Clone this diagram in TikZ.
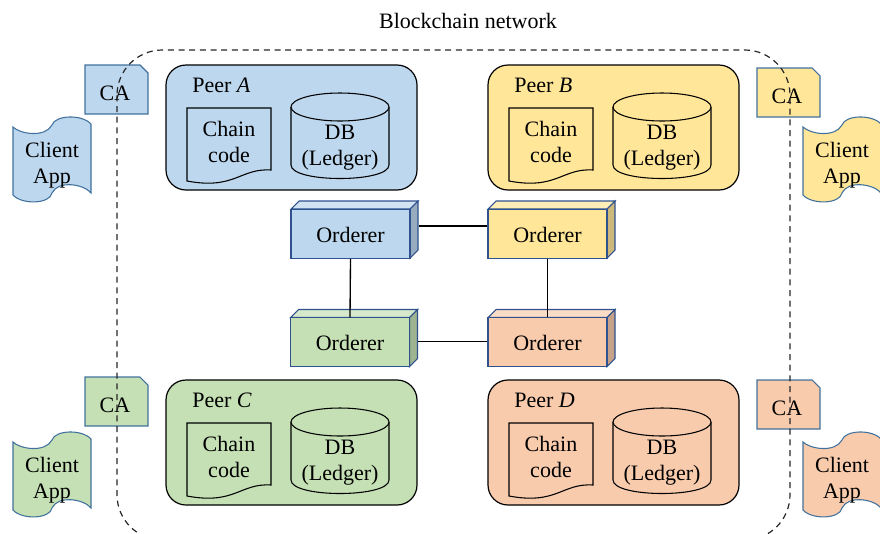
\documentclass[tikz,border=0pt]{standalone}
\usepackage{fontspec}
\setmainfont{Liberation Serif}
\usetikzlibrary{calc}
\definecolor{blockblue}{HTML}{BDD7EE}
\definecolor{blockyellow}{HTML}{FFE699}
\definecolor{blockgreen}{HTML}{C5E0B4}
\definecolor{blockorange}{HTML}{F8CBAD}
\definecolor{edgeblue}{HTML}{41719C}
\definecolor{edgenavy}{HTML}{2F528F}
\newcommand{\peerbox}[4]{%
  \begin{scope}[shift={(#3,#4)}]
    \node[peer,fill=#2] (peer#1) at (291.5,127.5) {};
    \node[txt,anchor=west] (peerlabel#1) at (192,85) {Peer \textit{#1}};
    \draw[inner,fill=#2] (187,108) -- (271,108) -- (271,170) .. controls (240,168) and (235,190) .. (187,181) -- cycle;
    \node[txt] (chain#1) at (229,141) {Chain\\code};
    \draw[inner,fill=#2] (291,107) -- (291,165) .. controls (291,183) and (389,183) .. (389,165) -- (389,107);
    \draw[inner,fill=#2] (340,107) ellipse [x radius=49,y radius=14];
    \node[txt] (db#1) at (340,145) {DB\\(Ledger)};
  \end{scope}}
\newcommand{\caclient}[6]{%
  \begin{scope}[shift={(#3,#4)}]
    \draw[edge,fill=#2] (85,65) -- (140,65) -- (148,73) -- (148,114) -- (85,114) -- cycle;
    \node[txt] (ca#1) at (115,93) {CA};
  \end{scope}
  \begin{scope}[shift={(#5,#6)}]
    \draw[edge,fill=#2] (13,127) .. controls (20,134) and (45,138) .. (52,125) .. controls (55,115) and (82,114) .. (91,124) -- (91,193) .. controls (84,184) and (58,180) .. (52,193) .. controls (50,204) and (22,205) .. (13,195) -- cycle;
    \node[txt] (client#1) at (52,162) {Client\\App};
  \end{scope}}
\newcommand{\orderer}[4]{%
  \draw[box,fill=#2!70!white] (#3-59.5,#4-24.5) -- ++(8,-8) -- ++(119,0) -- ++(-8,8) -- cycle;
  \draw[box,fill=#2!80!black] (#3+59.5,#4-24.5) -- ++(8,-8) -- ++(0,49) -- ++(-8,8) -- cycle;
  \node[box,txt,fill=#2,minimum width=119*0.75pt,minimum height=49*0.75pt] (orderer#1) at (#3,#4) {\raisebox{-1pt}{Orderer}};}
\begin{document}
\begin{tikzpicture}[x=0.75pt,y=-0.75pt,
  txt/.style={font=\fontsize{16.5}{19.5}\selectfont,align=center,inner sep=0pt,text depth=0pt,yshift=-0.3pt},
  peer/.style={draw=black,line width=0.9pt,rounded corners=15pt,minimum width=251*0.75pt,minimum height=125*0.75pt},
  inner/.style={draw=black,line width=0.8pt},
  edge/.style={draw=edgeblue,line width=0.8pt},
  box/.style={draw=edgenavy,line width=0.8pt},
  link/.style={draw=black,line width=1pt}]
  \clip (0,0) rectangle (880,533);

  %title
  \node[txt] (title) at (468,20) {Blockchain network};

  %orderer links
  \orderer{A}{blockblue}{350.5}{233.5}
  \orderer{B}{blockyellow}{547.5}{233.5}
  \orderer{C}{blockgreen}{350}{342}
  \orderer{D}{blockorange}{547.5}{342}
  \draw[link] ([shift={(8,-8)}]ordererA.east) -- ([shift={(0,-8)}]ordererB.west);
  \draw[link] ([shift={(8,-1)}]ordererC.east) -- ([shift={(0,-1)}]ordererD.west);
  \draw[link] (ordererA.south) -- (ordererC.north);
  \draw[link] (ordererB.south) -- (ordererD.north);

  %peers
  \peerbox{A}{blockblue}{0}{0}
  \peerbox{B}{blockyellow}{322}{0}
  \peerbox{C}{blockgreen}{0}{315}
  \peerbox{D}{blockorange}{322}{315}

  %ca and client app
  \caclient{A}{blockblue}{0}{0}{0}{0}
  \caclient{B}{blockyellow}{672}{3}{790}{0}
  \caclient{C}{blockgreen}{0}{312}{0}{315}
  \caclient{D}{blockorange}{672}{315}{790}{315}

  %network border
  \draw[black!85,line width=0.9pt,dash pattern=on 4.5pt off 3.5pt,rounded corners=34pt] (117,50) rectangle (790,540);
\end{tikzpicture}
\end{document}
